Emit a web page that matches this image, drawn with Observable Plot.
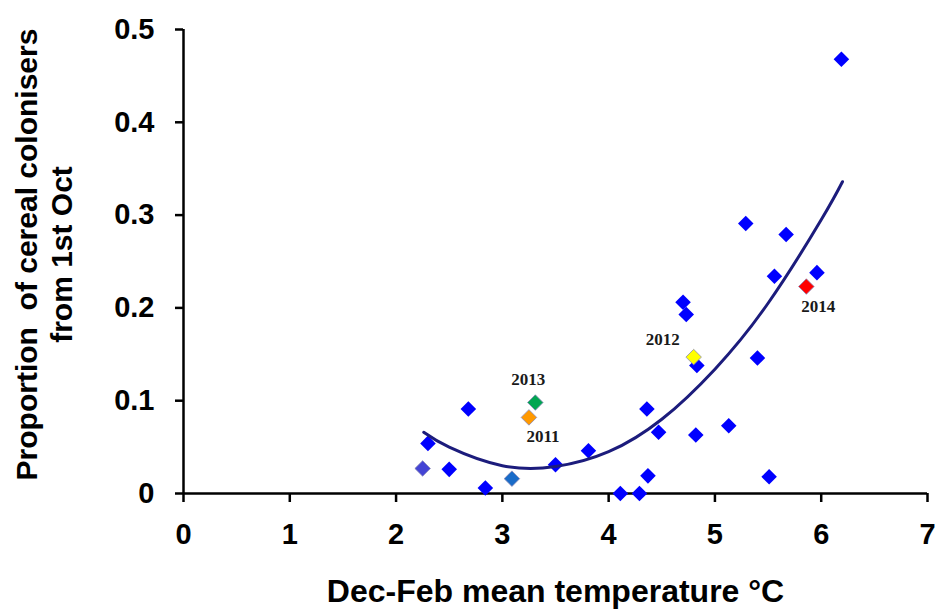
<!DOCTYPE html>
<html>
<head>
<meta charset="utf-8">
<script src="https://cdn.jsdelivr.net/npm/d3@7"></script>
<script src="https://cdn.jsdelivr.net/npm/@observablehq/plot@0.6"></script>
<style>
  html, body { margin: 0; padding: 0; background: #fff; }
</style>
</head>
<body>
<div id="chart"></div>
<script>
// ---- Data ----
const temps = [2.25, 2.30, 2.50, 2.68, 2.84, 3.09, 3.25, 3.31, 3.50, 3.81,
               4.11, 4.29, 4.37, 4.36, 4.47, 4.70, 4.73, 4.80, 4.83, 4.82,
               5.13, 5.29, 5.40, 5.51, 5.56, 5.67, 5.86, 5.96, 6.19];
const props = [0.027, 0.054, 0.026, 0.091, 0.006, 0.016, 0.082, 0.098, 0.031, 0.046,
               0.000, 0.000, 0.019, 0.091, 0.066, 0.206, 0.193, 0.147, 0.138, 0.063,
               0.073, 0.291, 0.146, 0.018, 0.234, 0.279, 0.223, 0.238, 0.468];
const groups = ["a", "other", "other", "other", "other", "b", "2011", "2013", "other", "other",
                "other", "other", "other", "other", "other", "other", "other", "2012", "other", "other",
                "other", "other", "other", "other", "other", "other", "2014", "other", "other"];

const groupNames  = ["other", "a", "b", "2011", "2012", "2013", "2014"];
const groupColors = ["#0000ff", "#4444d4", "#1a6cc8", "#ff9900", "#ffff00", "#00a651", "#ff0000"];

// trend curve
const trendX = [2.26, 2.5, 3.0, 3.5, 4.0, 4.5, 5.0, 5.5, 6.0, 6.20];
const trendY = [0.066, 0.050, 0.030, 0.029, 0.045, 0.080, 0.134, 0.205, 0.295, 0.336];

const xTicks = [0, 1, 2, 3, 4, 5, 6, 7];
const yTicks = [0, 0.1, 0.2, 0.3, 0.4, 0.5];

const xTitle = "Dec-Feb mean temperature \u00B0C";
const yTitle1 = "Proportion  of cereal colonisers";
const yTitle2 = "from 1st Oct";

// label offsets (style) for the highlighted years
const yearLabelOffsets = {"2011": [14, 19], "2012": [-31, -18], "2013": [-7, -23], "2014": [12, 20]};

const idx = d3.range(temps.length);
const trendIdx = d3.range(trendX.length);
const sans = "Liberation Sans, Arial, sans-serif";

const yearMarks = Object.keys(yearLabelOffsets).map(yr => Plot.text(idx.filter(i => groups[i] === yr), {
  x: i => temps[i], y: i => props[i], text: i => groups[i],
  dx: yearLabelOffsets[yr][0], dy: yearLabelOffsets[yr][1],
  fontFamily: "Liberation Serif, Times New Roman, serif", fontWeight: "bold", fontSize: 17, fill: "#1a1a1a"
}));

const chart = Plot.plot({
  width: 935, height: 610,
  marginLeft: 183, marginRight: 8, marginTop: 29, marginBottom: 117,
  x: {domain: [0, 7]},
  y: {domain: [0, 0.5]},
  color: {domain: groupNames, range: groupColors},
  style: {background: "white", color: "black", fontFamily: sans},
  marks: [
    Plot.axisX(xTicks, {tickSize: 9, tickPadding: 21, fontSize: 29, fontWeight: "bold", strokeWidth: 2.5, label: null, fontFamily: sans}),
    Plot.axisY(yTicks, {tickSize: 8, tickPadding: 21, fontSize: 29, fontWeight: "bold", strokeWidth: 2.5, label: null, fontFamily: sans,
      tickFormat: d => d === 0 ? "0" : d.toFixed(1)}),
    Plot.ruleY([0], {x1: 0, x2: 7, strokeWidth: 2.5, stroke: "black"}),
    Plot.ruleX([0], {y1: 0, y2: 0.5, strokeWidth: 2.5, stroke: "black"}),
    Plot.dot(idx.filter(i => groups[i] === "other"), {
      x: i => temps[i], y: i => props[i], fill: i => groups[i], symbol: "diamond2", r: 7
    }),
    Plot.dot(idx.filter(i => groups[i] !== "other"), {
      x: i => temps[i], y: i => props[i], fill: i => groups[i], symbol: "diamond2", r: 7,
      stroke: "#8a8ab8", strokeWidth: 0.8
    }),
    Plot.line(trendIdx, {x: i => trendX[i], y: i => trendY[i], curve: "natural", stroke: "#1c1c7c", strokeWidth: 3}),
    ...yearMarks,
    Plot.text([xTitle], {frameAnchor: "bottom", textAnchor: "middle", lineAnchor: "middle", dx: 0, dy: 98, fontSize: 32, fontWeight: "bold", fontFamily: sans, fill: "black"}),
    Plot.text([yTitle1], {frameAnchor: "left", textAnchor: "middle", rotate: -90, lineAnchor: "middle", dx: -156, dy: -7, fontSize: 30, fontWeight: "bold", fontFamily: sans, fill: "black"}),
    Plot.text([yTitle2], {frameAnchor: "left", textAnchor: "middle", rotate: -90, lineAnchor: "middle", dx: -121, dy: -7, fontSize: 30, fontWeight: "bold", fontFamily: sans, fill: "black"})
  ]
});

document.getElementById("chart").appendChild(chart);
</script>
</body>
</html>
